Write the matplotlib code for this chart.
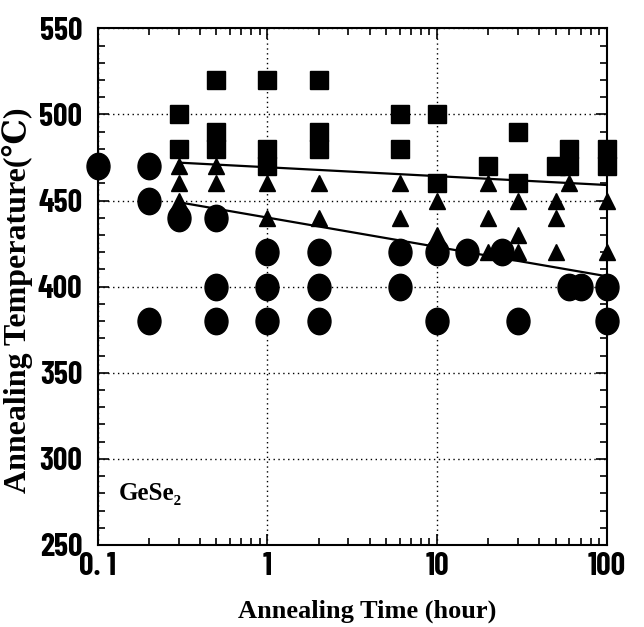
import numpy as np
import matplotlib
matplotlib.use("Agg")
import matplotlib.pyplot as plt
from matplotlib.path import Path
from matplotlib.transforms import Affine2D
from matplotlib.ticker import FixedLocator, LogLocator, MultipleLocator, NullFormatter

# circles
circ_t = [0.1, 0.2, 0.2, 0.2, 0.3, 0.5, 0.5, 0.5, 1, 1, 1, 2, 2, 2,
          6, 6, 10, 10, 15, 24, 30, 60, 70, 100, 100]
circ_T = [470, 470, 450, 380, 440, 440, 400, 380, 420, 400, 380, 420, 400, 380,
          420, 400, 420, 380, 420, 420, 380, 400, 400, 400, 380]

# triangles
tri_t = [0.3, 0.3, 0.3, 0.5, 0.5, 1, 1, 2, 2, 6, 6, 10, 10,
         20, 20, 20, 30, 30, 30, 50, 50, 50, 60, 100, 100]
tri_T = [470, 460, 450, 470, 460, 460, 440, 460, 440, 460, 440, 450, 430,
         460, 440, 420, 450, 430, 420, 450, 440, 420, 460, 450, 420]

# squares
sq_t = [0.3, 0.3, 0.5, 0.5, 0.5, 1, 1, 1, 2, 2, 2, 6, 6, 10, 10,
        20, 30, 30, 50, 60, 60, 100, 100]
sq_T = [500, 480, 520, 490, 480, 520, 480, 470, 520, 490, 480, 500, 480, 500, 460,
        470, 490, 460, 470, 480, 470, 480, 470]

# boundary lines
upper_t = [0.3, 100]
upper_T = [472, 459]
lower_t = [0.3, 100]
lower_T = [449, 406]

xticks = [0.1, 1, 10, 100]
xlabels = ["0. 1", "1", "10", "100"]
yticks = [250, 300, 350, 400, 450, 500, 550]

num_font = ["Liberation Sans Narrow", "Barlow Condensed", "Liberation Sans", "DejaVu Sans"]
txt_font = ["Liberation Serif", "DejaVu Serif"]

fig = plt.figure(figsize=(6.44, 6.27), dpi=100)
ax = fig.add_axes([0.1517, 0.1308, 0.7908, 0.8241])

ellipse = Path.unit_circle().transformed(Affine2D().scale(0.87, 1.0))

ax.plot(upper_t, upper_T, color="black", lw=1.6, zorder=3)
ax.plot(lower_t, lower_T, color="black", lw=1.6, zorder=3)
ax.plot(circ_t, circ_T, ls="none", marker=ellipse, ms=19, color="black",
        clip_on=False, zorder=4)
ax.plot(tri_t, tri_T, ls="none", marker="^", ms=11.5, color="black",
        clip_on=False, zorder=4)
ax.plot(sq_t, sq_T, ls="none", marker="s", ms=13, color="black",
        clip_on=False, zorder=4)

ax.set_xscale("log")
ax.set_xlim(0.1, 100)
ax.set_ylim(250, 550)

ax.xaxis.set_major_locator(FixedLocator(xticks))
ax.set_xticklabels(xlabels)
ax.xaxis.set_minor_locator(LogLocator(base=10, subs=np.arange(2, 10)))
ax.xaxis.set_minor_formatter(NullFormatter())
ax.set_yticks(yticks)
ax.yaxis.set_minor_locator(MultipleLocator(10))

ax.tick_params(which="both", direction="in", top=True, right=True,
               color="black", width=1.2)
ax.tick_params(which="major", length=8)
ax.tick_params(which="minor", length=5)
ax.tick_params(axis="x", which="major", pad=5)
ax.tick_params(axis="y", which="major", pad=11)

for lab in ax.get_xticklabels() + ax.get_yticklabels():
    lab.set_fontfamily(num_font)
    lab.set_fontsize(23)
    lab.set_fontweight("bold")

ax.grid(True, which="major", ls=(0, (1, 2.5)), color="black", lw=1.0)
for sp in ax.spines.values():
    sp.set_linewidth(1.5)

ax.set_xlabel("Annealing Time (hour)", family=txt_font, fontsize=19,
              fontweight="bold")
ax.xaxis.set_label_coords(0.53, -0.105)
ax.set_ylabel("Annealing Temperature(℃)", family=txt_font, fontsize=23,
              fontweight="bold")
ax.yaxis.set_label_coords(-0.128, 0.474)

ax.text(0.133, 280, "GeSe₂", family=txt_font, fontsize=18, fontweight="bold",
        ha="left", va="center")

fig.savefig("out.png", dpi=100)
